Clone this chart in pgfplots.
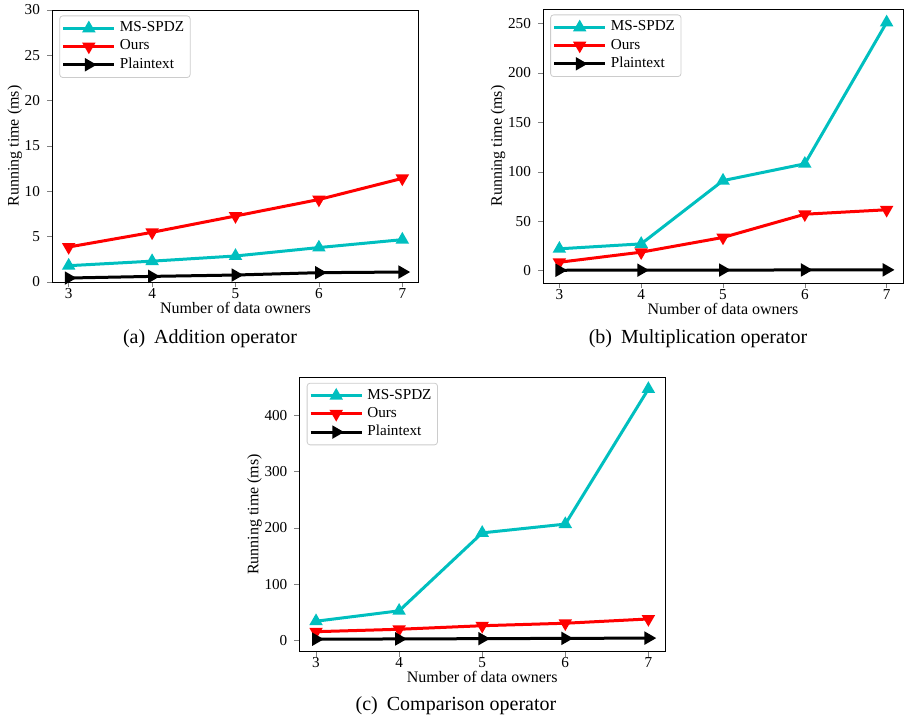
\documentclass[border=0pt]{standalone}
\usepackage{fontspec}
\setmainfont{Liberation Serif}
\usepackage{pgfplots}
\pgfplotsset{compat=1.18}
\definecolor{mplc}{rgb}{0,0.75,0.75}
\pgfplotsset{
  sub/.style={
    scale only axis,
    xmin=2.8, xmax=7.2,
    xtick={3,4,5,6,7},
    tick align=outside,
    xtick pos=left, ytick pos=left,
    major tick length=2.5pt,
    /pgf/number format/assume math mode=true,
    tick label style={font=\fontsize{7.6}{9}\selectfont},
    label style={font=\fontsize{8}{9}\selectfont},
    xlabel={Number of data owners},
    ylabel={Running time (ms)},
    xlabel style={yshift=5pt},
    ylabel style={yshift=-5.5pt},
    xticklabel style={yshift=3pt},
    axis line style={line width=0.5pt},
    legend style={at={(0.02,0.98)}, anchor=north west, draw=black!20, rounded corners=1.5pt,
      font=\fontsize{7.6}{8.5}\selectfont, inner sep=1pt, row sep=-1.5pt},
    legend cell align=left,
    legend image code/.code={
      \draw[mark repeat=2,mark phase=2,#1] plot coordinates {(0cm,0cm) (0.45cm,0cm) (0.9cm,0cm)};
    },
    every axis plot/.append style={line width=1.5pt},
  },
  s1/.style={mplc, mark=triangle*, mark size=2.4pt, mark options={solid}},
  s2/.style={red, mark=triangle*, mark size=2.4pt, mark options={solid, rotate=180}},
  s3/.style={black, mark=triangle*, mark size=2.4pt, mark options={solid, rotate=-90}},
}
\begin{document}
\begin{tikzpicture}
\useasboundingbox (0pt,0pt) rectangle (452pt,-359.5pt);
% (a)
\begin{axis}[sub, at={(26pt,-141pt)}, anchor=south west, width=183.5pt, height=136pt,
  ymin=0, ymax=30, ytick={0,5,10,15,20,25,30}]
\addplot[s1] coordinates {(3,1.8) (4,2.3) (5,2.87) (6,3.8) (7,4.67)};
\addplot[s2] coordinates {(3,3.86) (4,5.48) (5,7.28) (6,9.1) (7,11.43)};
\addplot[s3] coordinates {(3,0.44) (4,0.62) (5,0.77) (6,1.03) (7,1.1)};
\legend{MS-SPDZ, Ours, Plaintext}
\end{axis}
% (b)
\begin{axis}[sub, at={(271.5pt,-141.5pt)}, anchor=south west, width=180pt, height=137pt,
  ymin=-12.6, ymax=264.6, ytick={0,50,100,150,200,250}]
\addplot[s1] coordinates {(3,22) (4,27) (5,91) (6,108) (7,251)};
\addplot[s2] coordinates {(3,8.4) (4,18.6) (5,33.5) (6,57) (7,61.5)};
\addplot[s3] coordinates {(3,0.3) (4,0.4) (5,0.5) (6,0.6) (7,0.7)};
\legend{MS-SPDZ, Ours, Plaintext}
\end{axis}
% (c)
\begin{axis}[sub, at={(149.7pt,-325.85pt)}, anchor=south west, width=182.8pt, height=137.2pt,
  ymin=-20.2, ymax=467.5, ytick={0,100,200,300,400}]
\addplot[s1] coordinates {(3,34) (4,52.5) (5,191) (6,206.6) (7,446.7)};
\addplot[s2] coordinates {(3,15.4) (4,19.7) (5,26) (6,30.4) (7,38)};
\addplot[s3] coordinates {(3,2) (4,2.5) (5,3) (6,3.5) (7,4)};
\legend{MS-SPDZ, Ours, Plaintext}
\end{axis}
\node[font=\fontsize{10}{12}\selectfont] at (105pt,-169.5pt) {(a)\hspace{0.45em}Addition operator};
\node[font=\fontsize{10}{12}\selectfont] at (349pt,-169.5pt) {(b)\hspace{0.45em}Multiplication operator};
\node[font=\fontsize{10}{12}\selectfont] at (228pt,-353pt) {(c)\hspace{0.45em}Comparison operator};
\end{tikzpicture}
\end{document}
